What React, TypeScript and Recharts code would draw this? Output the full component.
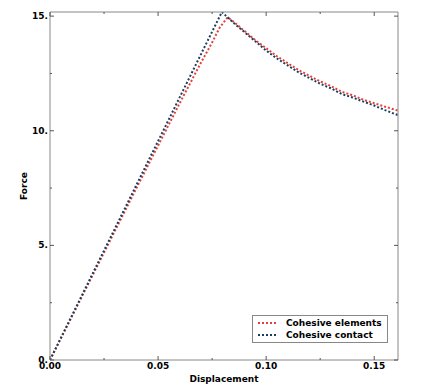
import React from "react";
import { LineChart, Line, XAxis, YAxis } from "recharts";

// Force vs displacement
const elemDisp = [0, 0.02, 0.04, 0.06, 0.07, 0.075, 0.0785, 0.0822, 0.085, 0.09, 0.095, 0.1, 0.105, 0.11, 0.115, 0.12, 0.125, 0.13, 0.135, 0.14, 0.145, 0.15, 0.155, 0.161];
const elemForce = [0, 3.75, 7.5, 11.2, 13.0, 13.85, 14.5, 14.95, 14.75, 14.35, 13.95, 13.6, 13.25, 12.95, 12.65, 12.4, 12.15, 11.95, 11.7, 11.55, 11.35, 11.2, 11.05, 10.88];

const contactDisp = [0, 0.0795, 0.085, 0.09, 0.095, 0.1, 0.105, 0.11, 0.115, 0.12, 0.125, 0.13, 0.135, 0.14, 0.145, 0.15, 0.155, 0.161];
const contactForce = [0, 15.18, 14.7, 14.3, 13.9, 13.5, 13.15, 12.85, 12.55, 12.3, 12.05, 11.85, 11.6, 11.45, 11.27, 11.1, 10.9, 10.68];

const seriesNames = ["Cohesive elements", "Cohesive contact"];

const xTicks = [0, 0.025, 0.05, 0.075, 0.1, 0.125, 0.15];
const xMajor = [0, 0.05, 0.1, 0.15];
const yTicks = [0, 2.5, 5, 7.5, 10, 12.5, 15];
const yMajor = [0, 5, 10, 15];

const elemData = elemDisp.map((d, i) => ({ d, f: elemForce[i] }));
const contactData = contactDisp.map((d, i) => ({ d, f: contactForce[i] }));

const RED = "#e0413a";
const NAVY = "#1d3d5c";
const colors = [RED, NAVY];
const FRAME = "#888";
const FONT = "'DejaVu Sans', sans-serif";

const isMajor = (list: number[], v: number) => list.some((m) => Math.abs(m - v) < 1e-9);

function BottomTick(props: any) {
  const { x, y, payload } = props;
  const major = isMajor(xMajor, payload.value);
  const base = y - 3;
  return (
    <g>
      <line x1={x} x2={x} y1={base} y2={base - (major ? 4 : 2)} stroke="#555" />
      {major && (
        <text x={x} y={base} dy={9} textAnchor="middle" fontSize={9} fontWeight="bold" fontFamily={FONT} fill="#000">
          {payload.value.toFixed(2)}
        </text>
      )}
    </g>
  );
}

function TopTick(props: any) {
  const { x, y, payload } = props;
  const major = isMajor(xMajor, payload.value);
  return <line x1={x} x2={x} y1={y} y2={y + (major ? 4 : 2)} stroke="#555" />;
}

function LeftTick(props: any) {
  const { x, y, payload } = props;
  const major = isMajor(yMajor, payload.value);
  const base = x + 2;
  return (
    <g>
      <line x1={base} x2={base + (major ? 4 : 2)} y1={y} y2={y} stroke="#555" />
      {major && (
        <text x={x} y={y} dy={3} textAnchor="end" fontSize={9} fontWeight="bold" fontFamily={FONT} fill="#000">
          {`${payload.value}.`}
        </text>
      )}
    </g>
  );
}

function RightTick(props: any) {
  const { x, y, payload } = props;
  const major = isMajor(yMajor, payload.value);
  return <line x1={x} x2={x - (major ? 4 : 2)} y1={y} y2={y} stroke="#555" />;
}

function LegendBox() {
  return (
    <div
      style={{
        position: "absolute",
        left: 252,
        top: 315,
        width: 130,
        border: `1px solid ${FRAME}`,
        background: "#fff",
        padding: "1px 0 1px 4px",
        fontFamily: FONT,
        fontSize: 9,
        fontWeight: "bold",
        lineHeight: "12px",
        color: "#000",
      }}
    >
      {seriesNames.map((name, i) => (
        <div key={name} style={{ display: "flex", alignItems: "center", whiteSpace: "nowrap" }}>
          <svg width={20} height={12} style={{ marginRight: 9 }}>
            <line x1={1} x2={20} y1={6} y2={6} stroke={colors[i]} strokeWidth={2} strokeDasharray="2 2" />
          </svg>
          <span>{name}</span>
        </div>
      ))}
    </div>
  );
}

export default function App() {
  return (
    <div style={{ position: "absolute", left: 0, top: 0, width: 446, height: 391, background: "#fff" }}>
      <LineChart width={446} height={391} margin={{ top: 11, right: 47, left: 0, bottom: 0 }}>
        <XAxis
          dataKey="d"
          type="number"
          domain={[0, 0.161]}
          allowDataOverflow
          ticks={xTicks}
          interval={0}
          height={31}
          tickSize={0}
          tickMargin={3}
          tick={<BottomTick />}
          stroke={FRAME}
          label={{ value: "Displacement", position: "insideBottom", offset: 9, fontSize: 9, fontWeight: "bold", fontFamily: FONT, fill: "#000" }}
        />
        <XAxis
          xAxisId="top"
          orientation="top"
          type="number"
          dataKey="d"
          domain={[0, 0.161]}
          allowDataOverflow
          ticks={xTicks}
          interval={0}
          height={1}
          tickSize={0}
          tickMargin={0}
          tick={<TopTick />}
          stroke={FRAME}
        />
        <YAxis
          type="number"
          domain={[0, 15.18]}
          allowDataOverflow
          ticks={yTicks}
          interval={0}
          width={50}
          tickSize={0}
          tickMargin={2}
          tick={<LeftTick />}
          stroke={FRAME}
          label={{ value: "Force", angle: -90, position: "insideLeft", offset: 24, fontSize: 9, fontWeight: "bold", fontFamily: FONT, fill: "#000", style: { textAnchor: "middle" } }}
        />
        <YAxis
          yAxisId="right"
          orientation="right"
          type="number"
          domain={[0, 15.18]}
          allowDataOverflow
          ticks={yTicks}
          interval={0}
          width={1}
          tickSize={0}
          tickMargin={0}
          tick={<RightTick />}
          stroke={FRAME}
        />
        <Line
          data={elemData}
          dataKey="f"
          name={seriesNames[0]}
          type="linear"
          stroke={RED}
          strokeWidth={2}
          strokeDasharray="2 2"
          dot={false}
          isAnimationActive={false}
        />
        <Line
          data={contactData}
          dataKey="f"
          name={seriesNames[1]}
          type="linear"
          stroke={NAVY}
          strokeWidth={2}
          strokeDasharray="2 2"
          dot={false}
          isAnimationActive={false}
        />
      </LineChart>
      <LegendBox />
    </div>
  );
}
